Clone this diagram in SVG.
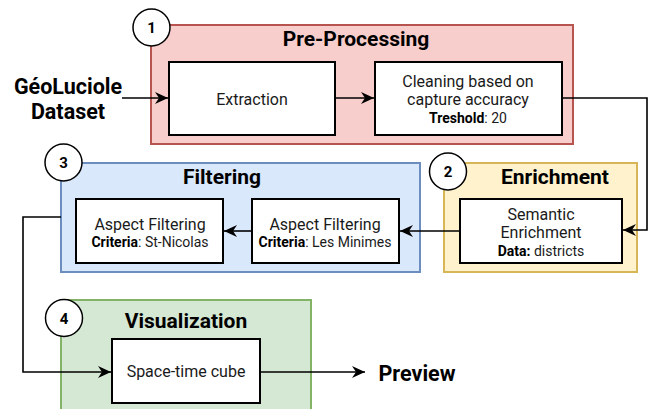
<svg xmlns="http://www.w3.org/2000/svg" width="652" height="409" viewBox="0 0 652 409">
<defs>
<marker id="arr" markerUnits="userSpaceOnUse" markerWidth="14" markerHeight="12" refX="13" refY="6" orient="auto" viewBox="0 0 14 12">
<path d="M0,0 L13,6 L0,12 L4,6 Z" fill="#000"/>
</marker>
</defs>
<style>
.t{font-family:Roboto,"Liberation Sans",sans-serif;fill:#000;text-anchor:middle}
.title{font-size:21px;font-weight:bold}
.big{font-size:21.5px;font-weight:bold}
.bt{font-size:16px;fill:#1a1a1a}
.sm{font-size:14px;fill:#1a1a1a}
.box{fill:#fff;stroke:#000;stroke-width:2}
.circ{fill:#fff;stroke:#000;stroke-width:1.5}
.num{font-size:15px;font-weight:bold}
.con{fill:none;stroke:#000;stroke-width:1.6}
</style>
<g id="preprocessing">
<rect x="151" y="25" width="422" height="119" fill="#f8cecc" stroke="#b85450" stroke-width="2"/>
<text class="t title" x="356" y="46">Pre-Processing</text>
</g>
<g id="enrichment">
<rect x="444" y="163" width="193" height="109" fill="#fff2cc" stroke="#d6b656" stroke-width="2"/>
<text class="t title" x="555" y="184">Enrichment</text>
</g>
<g id="filtering">
<rect x="61" y="163" width="359" height="109" fill="#dae8fc" stroke="#6c8ebf" stroke-width="2"/>
<text class="t title" x="222" y="184">Filtering</text>
</g>
<g id="visualization">
<rect x="61" y="300" width="250" height="115" fill="#d5e8d4" stroke="#82b366" stroke-width="2"/>
<text class="t title" x="186" y="328">Visualization</text>
</g>
<g id="circle1"><circle class="circ" cx="151.5" cy="27.5" r="18.5"/><text class="t num" x="151.5" y="33">1</text></g>
<g id="circle2"><circle class="circ" cx="448" cy="171.5" r="18.5"/><text class="t num" x="448" y="177">2</text></g>
<g id="circle3"><circle class="circ" cx="63.5" cy="162.5" r="18.5"/><text class="t num" x="63.5" y="168">3</text></g>
<g id="circle4"><circle class="circ" cx="64" cy="318" r="18.5"/><text class="t num" x="64" y="323.5">4</text></g>
<g id="dataset">
<text class="t big" x="68" y="94">GéoLuciole</text>
<text class="t big" x="68" y="119">Dataset</text>
</g>
<g id="extraction">
<rect class="box" x="169" y="62" width="166" height="73"/>
<text class="t bt" x="252" y="105">Extraction</text>
</g>
<g id="cleaning">
<rect class="box" x="375" y="62" width="187" height="73"/>
<text class="t bt" x="468" y="87">Cleaning based on</text>
<text class="t bt" x="468" y="105">capture accuracy</text>
<text class="t sm" x="468" y="123"><tspan font-weight="bold" fill="#000">Treshold</tspan>: 20</text>
</g>
<g id="semantic">
<rect class="box" x="460" y="199" width="162" height="64"/>
<text class="t bt" x="541" y="220">Semantic</text>
<text class="t bt" x="541" y="238">Enrichment</text>
<text class="t sm" x="541" y="256"><tspan font-weight="bold" fill="#000">Data:</tspan> districts</text>
</g>
<g id="minimes">
<rect class="box" x="252" y="199" width="147" height="64"/>
<text class="t bt" x="325" y="230">Aspect Filtering</text>
<text class="t sm" x="325" y="247"><tspan font-weight="bold" fill="#000">Criteria</tspan>: Les Minimes</text>
</g>
<g id="stnicolas">
<rect class="box" x="76" y="199" width="147" height="64"/>
<text class="t bt" x="150" y="230">Aspect Filtering</text>
<text class="t sm" x="150" y="247"><tspan font-weight="bold" fill="#000">Criteria</tspan>: St-Nicolas</text>
</g>
<g id="spacetime">
<rect class="box" x="112" y="339" width="148" height="64"/>
<text class="t bt" x="186" y="377">Space-time cube</text>
</g>
<g id="preview">
<text class="t big" x="417" y="381">Preview</text>
</g>
<g id="connectors">
<path class="con" d="M122,98 H168" marker-end="url(#arr)"/>
<path class="con" d="M335,98 H374" marker-end="url(#arr)"/>
<path class="con" d="M562,98 H647 V230 H623" marker-end="url(#arr)"/>
<path class="con" d="M460,231 H400" marker-end="url(#arr)"/>
<path class="con" d="M252,231 H224" marker-end="url(#arr)"/>
<path class="con" d="M61,217 H23 V372 H111" marker-end="url(#arr)"/>
<path class="con" d="M260,372 H365" marker-end="url(#arr)"/>
</g>
</svg>
